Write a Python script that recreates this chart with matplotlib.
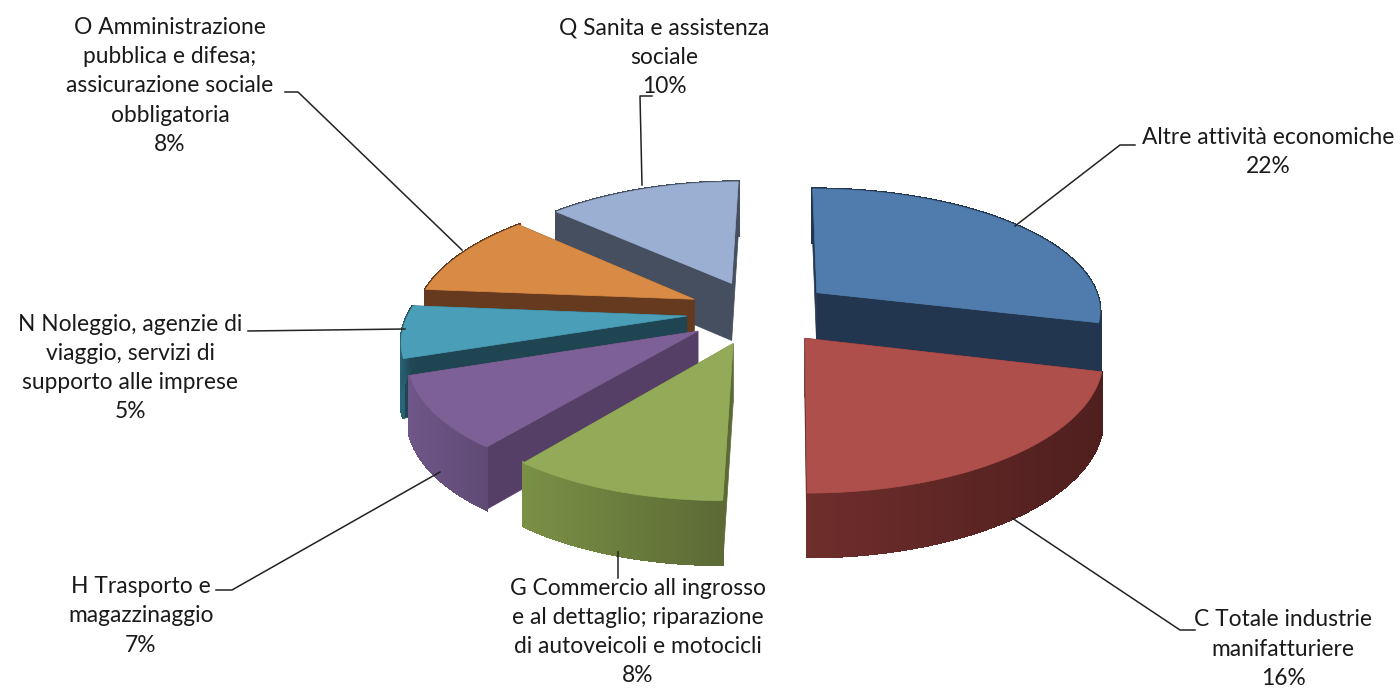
import numpy as np
import matplotlib
matplotlib.use('Agg')
import matplotlib.pyplot as plt
from matplotlib.colors import to_rgb

plt.rcParams['font.family'] = ['Lato', 'DejaVu Sans']

# Slices in clockwise order, starting at 12 o'clock
labels = ['Altre attività economiche\n22%',
          'C Totale industrie\nmanifatturiere\n16%',
          'G Commercio all ingrosso\ne al dettaglio; riparazione\ndi autoveicoli e motocicli\n8%',
          'H Trasporto e\nmagazzinaggio\n7%',
          'N Noleggio, agenzie di\nviaggio, servizi di\nsupporto alle imprese\n5%',
          'O Amministrazione\npubblica e difesa;\nassicurazione sociale\nobbligatoria\n8%',
          'Q Sanita e assistenza\nsociale\n10%']
values = [22, 16, 8, 7, 5, 8, 10]

top_colors = ['#4f7cac', '#ae4f4c', '#93ab58', '#7d6095', '#4a9eb8', '#d98a45', '#9bafd3']
face_colors = ['#233650', '#53211f', '#5c6a36', '#553f66', '#1f4552', '#663a1e', '#454f60']
wall_left = ['#233650', '#6e2e2c', '#7a9045', '#6f5688', '#2a6678', '#663a1e', '#454f60']
wall_right = ['#233650', '#4f1f1e', '#5c6a36', '#5f4a74', '#1f4552', '#663a1e', '#454f60']

label_pos = [(1268, 152), (1283, 649), (638, 632), (141, 616), (130, 368), (170, 86), (664, 57)]
leaders = [[(1015, 226), (1120, 145), (1135, 145)],
           [(1012, 518), (1180, 630), (1195, 630)],
           [(618, 552), (618, 578)],
           [(440, 472), (232, 590), (216, 590)],
           [(405, 329), (248, 331)],
           [(462, 250), (298, 92), (285, 92)],
           [(642, 185), (640, 96), (652, 96)]]

# Projection of the tilted pie
cx, cy = 759, 312
a, b, k = 286, 124, 0.145
explode = 0.26
depth = 58


def project(u, v, z=0):
    w = 1 + k * v
    # small shear and a narrower left side
    x = cx + a * u / w + np.where(v > 0, 3, 6) * v + 8 * np.maximum(-u, 0)
    return x, cy - b * v / w + z * depth / np.sqrt(w)


fig, ax = plt.subplots(figsize=(14, 6.92), dpi=100)
ax.set_position([0, 0, 1, 1])
ax.set_xlim(0, 1400)
ax.set_ylim(692, 0)
ax.axis('off')

spans = np.array(values) / sum(values) * 360
ends = 90 - np.cumsum(spans)
starts = ends + spans

# Back to front
for i in [0, 6, 5, 4, 3, 2, 1]:
    mid = np.radians((starts[i] + ends[i]) / 2)
    u0, v0 = explode * np.cos(mid), explode * np.sin(mid)
    t = np.radians(np.linspace(starts[i], ends[i], 80))
    u = u0 + np.cos(t)
    v = v0 + np.sin(t)

    # cut faces
    for j in [0, -1]:
        x1, y1 = project(u0, v0)
        x2, y2 = project(u[j], v[j])
        x3, y3 = project(u[j], v[j], 1)
        x4, y4 = project(u0, v0, 1)
        ax.fill([x1, x2, x3, x4], [y1, y2, y3, y4], color=face_colors[i], lw=0.5)

    # outer wall, shaded along the rim
    xt, yt = project(u, v)
    xb, yb = project(u, v, 1)
    c1, c2 = np.array(to_rgb(wall_left[i])), np.array(to_rgb(wall_right[i]))
    xmin, xmax = xt.min(), xt.max()
    for j in range(len(t) - 1):
        f = (xt[j] - xmin) / (xmax - xmin)
        ax.fill([xt[j], xt[j + 1], xb[j + 1], xb[j]], [yt[j], yt[j + 1], yb[j + 1], yb[j]],
                color=c1 + (c2 - c1) * f, lw=1.5, antialiased=False)

    # top
    xa, ya = project(u0, v0)
    ax.fill(np.r_[xa, xt], np.r_[ya, yt], color=top_colors[i], lw=0.5)

for pts, lab, pos in zip(leaders, labels, label_pos):
    xs, ys = zip(*pts)
    ax.plot(xs, ys, color='#222222', lw=1.1)
    ax.text(pos[0], pos[1], lab, ha='center', va='center', fontsize=16.4,
            color='#1a1a1a', linespacing=1.48)

fig.savefig('out.png', dpi=100)
